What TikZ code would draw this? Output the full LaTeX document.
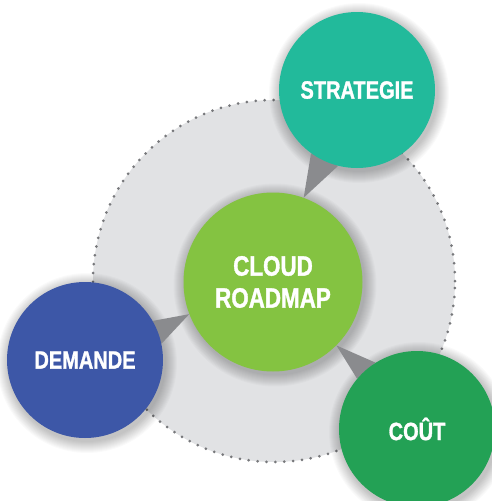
\documentclass[tikz,border=0pt]{standalone}
\usepackage{fontspec}
\newfontfamily\lblfont[FakeStretch=0.8, UprightFont=* Bold, FakeBold=1.2]{Liberation Sans}
\definecolor{bgcirc}{HTML}{E1E2E4}
\definecolor{dotgray}{HTML}{77787B}
\definecolor{ptrgray}{HTML}{8A8B8E}
\definecolor{cteal}{HTML}{22BA9B}
\definecolor{cgreen}{HTML}{84C341}
\definecolor{cblue}{HTML}{3D57A7}
\definecolor{cdgreen}{HTML}{23A155}
\pgfdeclarelayer{bglayer}
\pgfdeclarelayer{midlayer}
\pgfsetlayers{bglayer,midlayer,main}
\tikzset{
  bubble/.style={circle, inner sep=0pt, text=white, align=center,
    font=\lblfont\fontsize{25}{30}\selectfont},
  pointer/.style={fill=ptrgray},
  softshadow/.style={fill=black, opacity=0.02},
}
\newcommand{\softshade}[2]{%
  \foreach \k in {1,...,12} {\fill[softshadow] ([shift={(2pt,-3pt)}]#1) circle[radius=#2+\k*1pt];}}
\begin{document}
\begin{tikzpicture}[x=1pt,y=-1pt]
\useasboundingbox (0,0) rectangle (492,501);
% centres
\coordinate (g) at (274,281);
\coordinate (cc) at (273,282);
\coordinate (sc) at (357,90);
\coordinate (dc) at (85,360);
\coordinate (kc) at (417,429);
% circles
\node[bubble, fill=cgreen, minimum size=179pt, font=\lblfont\fontsize{28}{32}\selectfont] (C) at (cc) {CLOUD\\ROADMAP};
\node[bubble, fill=cteal, minimum size=156pt] (S) at (sc) {STRATEGIE};
\node[bubble, fill=cblue, minimum size=156pt] (D) at (dc) {DEMANDE};
\node[bubble, fill=cdgreen, minimum size=156pt] (K) at (kc) {CO\^UT};
\begin{pgfonlayer}{bglayer}
\fill[white] (0,0) rectangle (492,501);
\fill[bgcirc] (g) circle[radius=181pt];
\draw[dotgray, line width=3pt, line cap=round, dash pattern=on 0pt off 8.9pt] (g) circle[radius=181pt];
\softshade{cc}{89.5pt}
\softshade{sc}{78pt}
\softshade{dc}{78pt}
\softshade{kc}{78pt}
\end{pgfonlayer}
\begin{pgfonlayer}{midlayer}
\fill[pointer] (S.234) -- (C.70.8) -- (S.256) -- cycle;
\fill[pointer] (D.30.7) -- (C.201.7) -- (D.12.4) -- cycle;
\fill[pointer] (K.122) -- (C.315.9) -- (K.140.6) -- cycle;
\end{pgfonlayer}
\end{tikzpicture}
\end{document}
